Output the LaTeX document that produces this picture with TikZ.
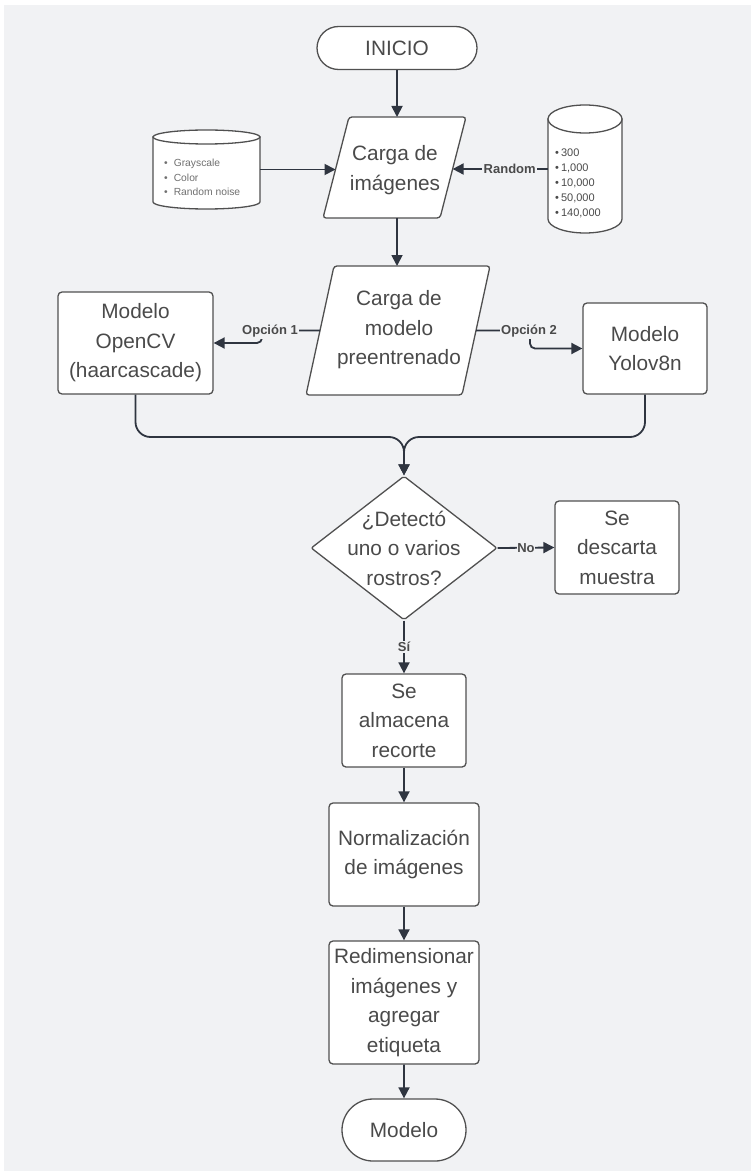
\documentclass[tikz,border=0pt]{standalone}
\usepackage{fontspec}
\setmainfont{Liberation Sans}
\usetikzlibrary{arrows.meta,shapes.geometric,shapes.misc}
\definecolor{canvas}{HTML}{F1F2F4}
\definecolor{wire}{HTML}{2F3540}
\definecolor{edge}{HTML}{505050}
\definecolor{ink}{HTML}{4A4A4A}
\definecolor{faint}{HTML}{707070}

\begin{document}
\begin{tikzpicture}[x=1pt,y=-1pt,
  bodyfont/.style={font=\fontsize{20.8}{29.5}\selectfont},
  box/.style={rectangle, draw=edge, line width=1.3pt, fill=white, rounded corners=4pt,
    align=center, text=ink, bodyfont, inner sep=0pt},
  term/.style={rounded rectangle, draw=edge, line width=1.3pt, fill=white,
    align=center, text=ink, bodyfont, inner sep=0pt},
  para/.style={draw=edge, line width=1.3pt, fill=white, rounded corners=3pt},
  decision/.style={diamond, draw=edge, line width=1.3pt, fill=white,
    rounded corners=2pt, inner sep=0pt},
  txt/.style={align=center, text=ink, bodyfont, inner sep=0pt},
  store/.style={draw=edge, line width=1.3pt, fill=white},
  conn/.style={draw=wire, line width=1.8pt, -{Triangle[length=11pt,width=11pt]}},
  tag/.style={fill=canvas, text=ink, font=\bfseries\fontsize{13}{15}\selectfont,
    inner sep=1.5pt},
]
\useasboundingbox (0,0) rectangle (751,1174);
\fill[white] (0,0) rectangle (751,1174);
\fill[canvas] (4,5) rectangle (751,1171);

% --- data sources (cylinders) ---
\node[minimum width=107pt, minimum height=79pt, inner sep=0pt] (dsL) at (206.5,169.5) {};
\path[store] (153,137) -- (153,202) arc[start angle=180, end angle=0, x radius=53.5, y radius=7] -- (260,137) -- cycle;
\path[store] (206.5,137) ellipse [x radius=53.5, y radius=7];
\node[anchor=west, align=left, text=faint, font=\fontsize{10.3}{14.5}\selectfont, inner sep=0pt]
  (dsLt) at (164,177.5) {•\hspace{6pt}Grayscale\\•\hspace{6pt}Color\\•\hspace{6pt}Random noise};

\node[minimum width=74pt, minimum height=100pt, inner sep=0pt] (dsR) at (585,169) {};
\path[store] (548,119) -- (548,219) arc[start angle=180, end angle=0, x radius=37, y radius=14] -- (622,119) -- cycle;
\path[store] (585,119) ellipse [x radius=37, y radius=14];
\node[anchor=west, align=left, text=ink, font=\fontsize{11}{15}\selectfont, inner sep=0pt]
  (dsRt) at (555,183) {•\hspace{2pt}300\\•\hspace{2pt}1,000\\•\hspace{2pt}10,000\\•\hspace{2pt}50,000\\•\hspace{2pt}140,000};

% --- main flow ---
\node[term, minimum width=160pt, minimum height=43pt] (start) at (397,48) {INICIO};

% input: image loading (parallelogram)
\path[para] (323,218) -- (440,218) -- (466,117) -- (349,117) -- cycle;
\coordinate (p1n) at (397,117);
\coordinate (p1s) at (397,218);
\coordinate (p1w) at (335.5,169.5);
\coordinate (p1e) at (452.6,169);
\node[txt] (p1t) at (395,170) {Carga de\\imágenes};

% input: pretrained model loading (parallelogram)
\path[para] (306,395) -- (462,395) -- (490,266) -- (334,266) -- cycle;
\coordinate (p2n) at (397,266);
\coordinate (p2w) at (320,330.5);
\coordinate (p2e) at (476,330.5);
\node[txt] (p2t) at (399,330) {Carga de\\modelo\\preentrenado};

\node[box, minimum width=155pt, minimum height=102pt] (cv) at (135.5,343) {Modelo\\OpenCV\\(haarcascade)};
\node[box, minimum width=124pt, minimum height=91pt] (yolo) at (645,348.5) {Modelo\\Yolov8n};

\coordinate (mrg) at (404,437);

\node[decision, minimum width=186pt, minimum height=144pt] (q) at (404,548) {};
\node[txt] (qt) at (404,548) {¿Detectó\\uno o varios\\rostros?};

\node[box, minimum width=124pt, minimum height=93pt] (drop) at (617,547.5) {Se\\descarta\\muestra};
\node[box, minimum width=124pt, minimum height=93pt] (keep) at (404,720.5) {Se\\almacena\\recorte};
\node[box, minimum width=150pt, minimum height=103pt] (norm) at (404,854.5) {Normalización\\de imágenes};
\node[box, minimum width=150pt, minimum height=123pt] (resz) at (404,1002.5) {Redimensionar\\imágenes y\\agregar\\etiqueta};
\node[term, minimum width=124pt, minimum height=62pt] (end) at (404,1130) {Modelo};

% --- connectors ---
\draw[conn] (start.south) -- (p1n);
\draw[conn] (dsL.east) -- (p1w);
\draw[conn] (dsR.west) -- node[tag, pos=0.4] {Random} (p1e);
\draw[conn] (p1s) -- (p2n);

\draw[conn, rounded corners=5pt] (p2w) -- (262,330.5) -- (262,343) -- (cv.east);
\node[tag] at (270,331) {Opción 1};
\draw[conn, rounded corners=5pt] (p2e) -- (530,330.5) -- (530,348.5) -- (yolo.west);
\node[tag] at (529,331) {Opción 2};

\draw[conn, rounded corners=15pt] (cv.south) |- (mrg) -- (q.north);
\draw[conn, rounded corners=15pt] (yolo.south) |- (mrg) -- (q.north);

\draw[conn] (q.east) -- node[tag, inner sep=0.5pt] {No} (drop.west);
\draw[conn] (q.south) -- node[tag] {Sí} (keep.north);
\draw[conn] (keep) -- (norm);
\draw[conn] (norm) -- (resz);
\draw[conn] (resz) -- (end);
\end{tikzpicture}
\end{document}
